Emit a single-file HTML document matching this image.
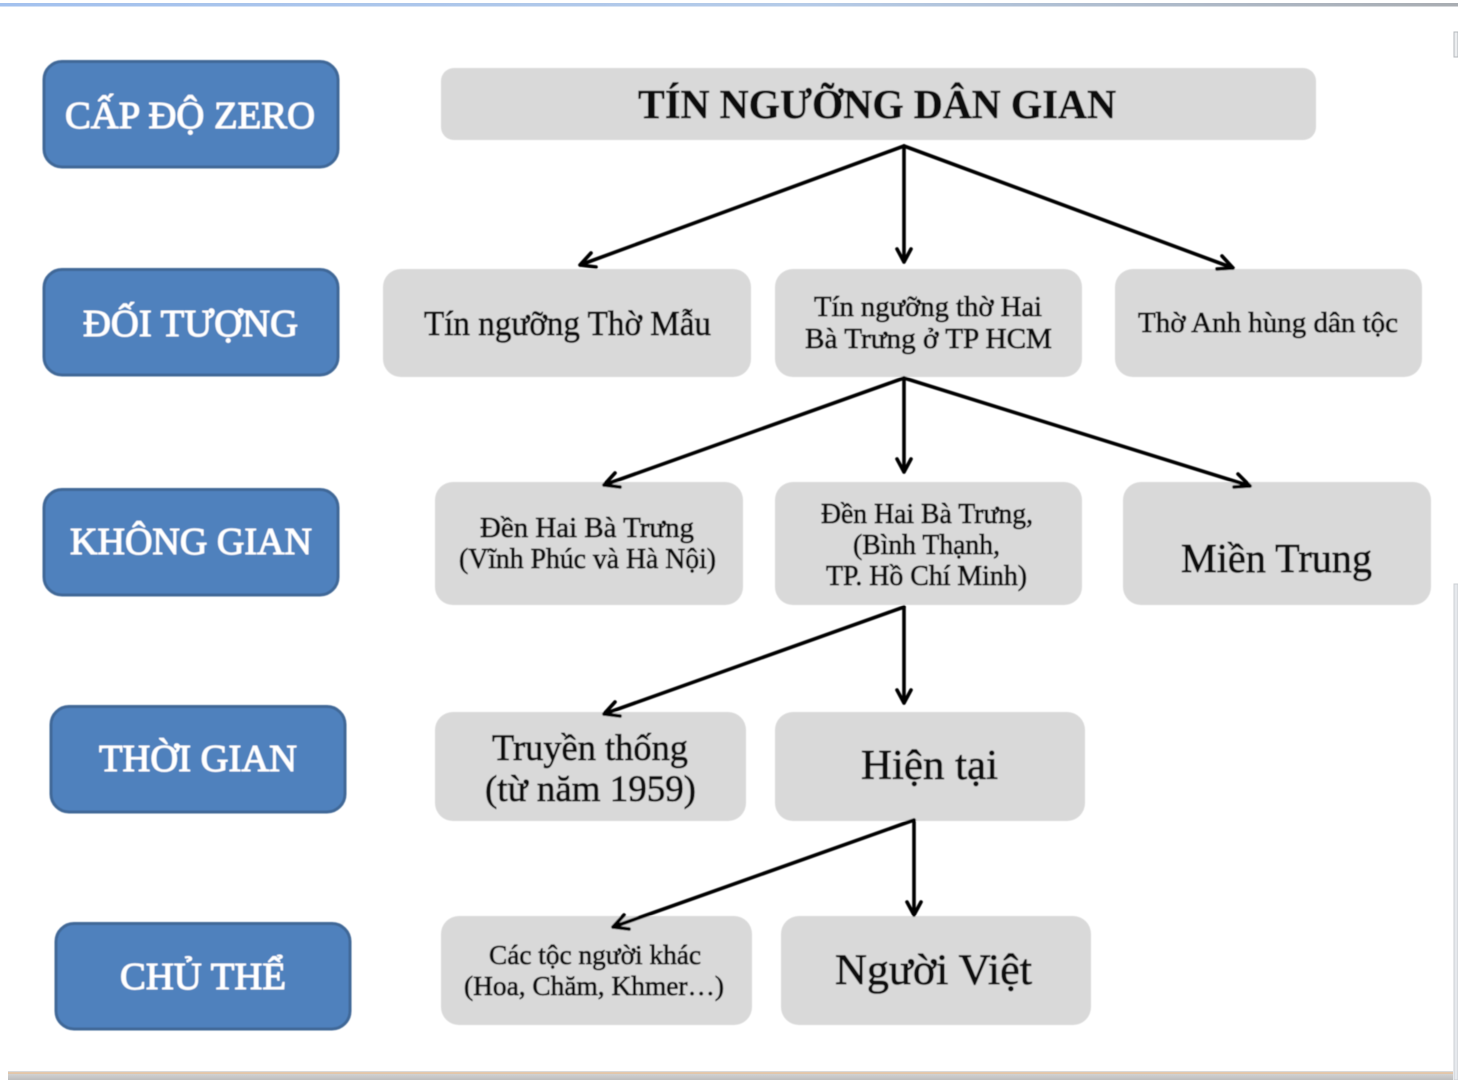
<!DOCTYPE html>
<html lang="vi">
<head>
<meta charset="utf-8">
<title>Tín ngưỡng dân gian</title>
<style>
html,body{margin:0;padding:0;background:#fff;width:1458px;height:1080px;overflow:hidden}
svg{display:block}
text{font-family:"Liberation Serif","Noto Serif CJK SC",serif;text-anchor:start}
.w{fill:#fff;stroke:#fff;stroke-width:1;font-size:38px}
.k{fill:#111;stroke:#111;stroke-width:.75}
.b{fill:#4f81bd;stroke:#3f6797;stroke-width:3}
.g{fill:#d9d9d9}
.l{fill:none;stroke:#000;stroke-width:3.6;stroke-linecap:round;stroke-linejoin:round}
</style>
</head>
<body>
<svg width="1458" height="1080" viewBox="0 0 1458 1080" xmlns="http://www.w3.org/2000/svg">
<defs>
<linearGradient id="top" x1="0" x2="1" y1="0" y2="0">
<stop offset="0" stop-color="#a3c1ee"/><stop offset=".55" stop-color="#b5cbe8"/><stop offset="1" stop-color="#a9adb2"/>
</linearGradient>
<linearGradient id="bot" x1="0" x2="0" y1="0" y2="1">
<stop offset="0" stop-color="#dcdcdc"/><stop offset="1" stop-color="#bdbdbd"/>
</linearGradient>
<filter id="soft" x="-2%" y="-2%" width="104%" height="104%"><feGaussianBlur stdDeviation="0.45"/></filter>
</defs>

<!-- window chrome -->
<rect x="0" y="3" width="1458" height="3.500" fill="url(#top)"/>
<rect x="1454" y="32" width="4" height="25" fill="#eceef0" stroke="#b4b8bc" stroke-width="1"/>
<rect x="1454" y="584" width="4" height="496" fill="#e6e9ed" stroke="#ccd0d4" stroke-width="1"/>
<rect x="8" y="1071" width="1445" height="9" fill="url(#bot)"/>
<rect x="8" y="1072.500" width="1445" height="1" fill="#f0b980"/>

<g filter="url(#soft)">
<!-- left blue labels -->
<rect class="b" x="44" y="61.500" width="294" height="105.500" rx="18"/>
<rect class="b" x="44" y="269.500" width="294" height="105.500" rx="18"/>
<rect class="b" x="44" y="489.500" width="294" height="105.500" rx="18"/>
<rect class="b" x="51" y="706.500" width="294" height="105.500" rx="18"/>
<rect class="b" x="56" y="923.500" width="294" height="105.500" rx="18"/>
<text class="w" x="65" y="128" textLength="250" lengthAdjust="spacingAndGlyphs">CẤP ĐỘ ZERO</text>
<text class="w" x="83" y="336" textLength="215" lengthAdjust="spacingAndGlyphs">ĐỐI TƯỢNG</text>
<text class="w" x="70" y="554" textLength="242" lengthAdjust="spacingAndGlyphs">KHÔNG GIAN</text>
<text class="w" x="99" y="771" textLength="198" lengthAdjust="spacingAndGlyphs">THỜI GIAN</text>
<text class="w" x="120" y="989" textLength="166" lengthAdjust="spacingAndGlyphs">CHỦ THỂ</text>

<!-- gray nodes -->
<rect class="g" x="441" y="68" width="875" height="72" rx="13"/>
<rect class="g" x="383" y="269" width="368" height="108" rx="18"/>
<rect class="g" x="775" y="269" width="307" height="108" rx="18"/>
<rect class="g" x="1115" y="269" width="307" height="108" rx="18"/>
<rect class="g" x="435" y="482" width="308" height="123" rx="18"/>
<rect class="g" x="775" y="482" width="307" height="123" rx="18"/>
<rect class="g" x="1123" y="482" width="308" height="123" rx="18"/>
<rect class="g" x="435" y="712" width="311" height="109" rx="18"/>
<rect class="g" x="775" y="712" width="310" height="109" rx="18"/>
<rect class="g" x="441" y="916" width="311" height="109" rx="18"/>
<rect class="g" x="781" y="916" width="310" height="109" rx="18"/>

<!-- node text -->
<text x="638" y="118" font-size="41" font-weight="bold" fill="#111" stroke="#111" stroke-width=".5" textLength="478" lengthAdjust="spacingAndGlyphs">TÍN NGƯỠNG DÂN GIAN</text>
<text class="k" x="424" y="335" font-size="35" textLength="287" lengthAdjust="spacingAndGlyphs">Tín ngưỡng Thờ Mẫu</text>
<text class="k" x="814" y="316" font-size="28" textLength="228" lengthAdjust="spacingAndGlyphs">Tín ngưỡng thờ Hai</text>
<text class="k" x="805" y="348" font-size="28" textLength="247" lengthAdjust="spacingAndGlyphs">Bà Trưng ở TP HCM</text>
<text class="k" x="1138" y="332" font-size="29" textLength="260" lengthAdjust="spacingAndGlyphs">Thờ Anh hùng dân tộc</text>
<text class="k" x="480" y="537" font-size="28" textLength="214" lengthAdjust="spacingAndGlyphs">Đền Hai Bà Trưng</text>
<text class="k" x="459" y="568" font-size="28" textLength="257" lengthAdjust="spacingAndGlyphs">(Vĩnh Phúc và Hà Nội)</text>
<text class="k" x="821" y="523" font-size="28" textLength="212" lengthAdjust="spacingAndGlyphs">Đền Hai Bà Trưng,</text>
<text class="k" x="853" y="554" font-size="28" textLength="147" lengthAdjust="spacingAndGlyphs">(Bình Thạnh,</text>
<text class="k" x="826" y="585" font-size="28" textLength="201" lengthAdjust="spacingAndGlyphs">TP. Hồ Chí Minh)</text>
<text class="k" x="1181" y="572" font-size="41" textLength="191" lengthAdjust="spacingAndGlyphs">Miền Trung</text>
<text class="k" x="492" y="760" font-size="37" textLength="196" lengthAdjust="spacingAndGlyphs">Truyền thống</text>
<text class="k" x="485" y="801" font-size="37" textLength="211" lengthAdjust="spacingAndGlyphs">(từ năm 1959)</text>
<text class="k" x="861" y="779" font-size="42" textLength="137" lengthAdjust="spacingAndGlyphs">Hiện tại</text>
<text class="k" x="489" y="964" font-size="27" textLength="212" lengthAdjust="spacingAndGlyphs">Các tộc người khác</text>
<text class="k" x="464" y="995" font-size="27" textLength="260" lengthAdjust="spacingAndGlyphs">(Hoa, Chăm, Khmer…)</text>
<text class="k" x="835" y="984" font-size="43" textLength="197" lengthAdjust="spacingAndGlyphs">Người Việt</text>

<!-- connectors -->
<g class="l">
<path d="M904 146L580 265M591 253L580 265L596 267"/>
<path d="M904 146V262M897 249L904 262L911 249"/>
<path d="M904 146L1233 268M1217 269L1233 268L1222 256"/>

<path d="M904 378L604 485M615 473L604 485L620 487"/>
<path d="M904 378V472M897 459L904 472L911 459"/>
<path d="M904 378L1250 486M1234 487L1250 486L1238 474"/>

<path d="M904 607L604 714M615 702L604 714L620 716"/>
<path d="M904 607V703M897 690L904 703L911 690"/>

<path d="M914 820L613 927M624 915L613 927L629 929"/>
<path d="M914 820V915M907 902L914 915L921 902"/>
</g>
</g>
</svg>
</body>
</html>
